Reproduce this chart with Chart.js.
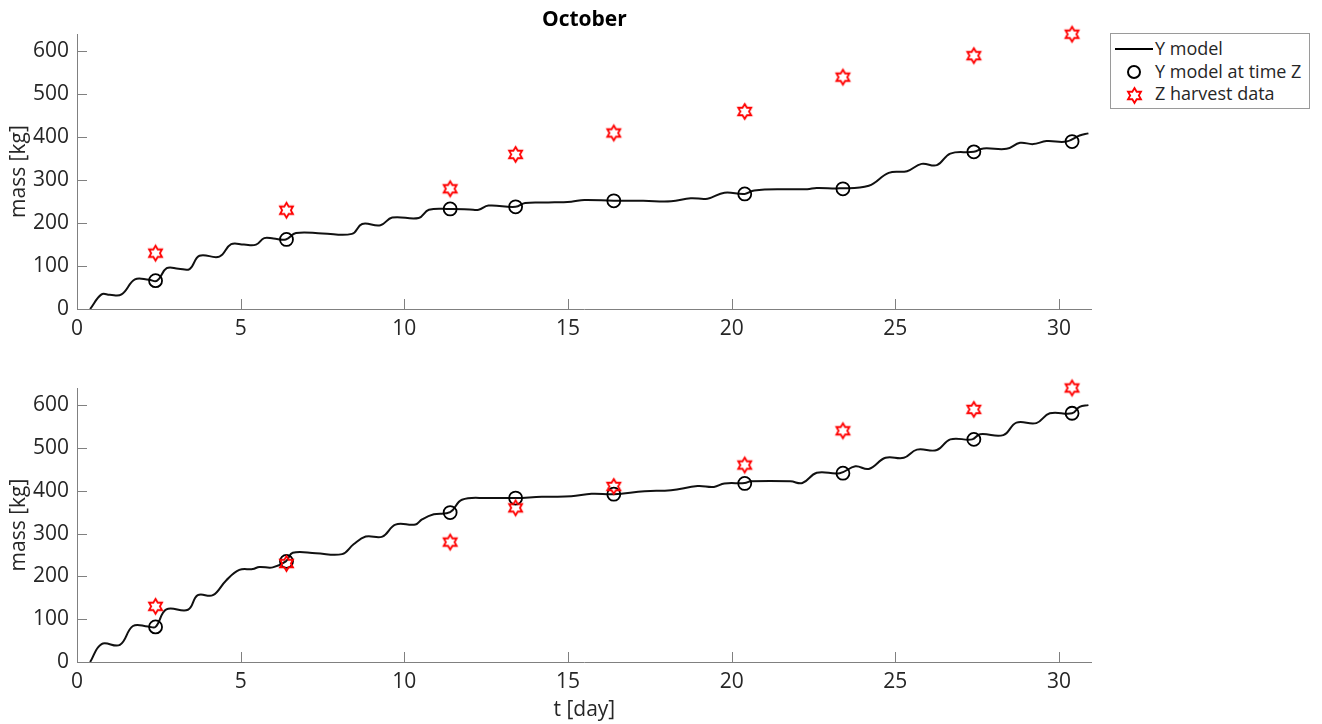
<!DOCTYPE html>
<html>
<head>
<meta charset="utf-8">
<script src="https://cdn.jsdelivr.net/npm/chart.js@4"></script>
<style>
  body { margin: 0; background: #fff; }
  #wrap { position: relative; width: 1322px; height: 724px; font-family: "Open Sans", sans-serif; color: #262626; }
  .box { position: absolute; }
  #legend { position: absolute; left: 1110px; top: 33px; width: 198px; height: 74px; border: 1px solid #9a9a9a; background: #fff; }
  .row { position: absolute; left: 0; height: 24px; width: 198px; font-size: 18px; line-height: 24px; }
  .row span.t { position: absolute; left: 44px; top: -1px; white-space: nowrap; }
  .sample { position: absolute; left: 4px; width: 38px; top: 11px; border-top: 2px solid #000; }
  .circ { position: absolute; left: 16px; top: 5px; width: 10px; height: 10px; border: 2px solid #000; border-radius: 50%; }
  .star { position: absolute; left: 13px; top: 3px; }
</style>
</head>
<body>
<div id="wrap">
  <div class="box" style="left:0;top:0;"><canvas id="topChart" width="1100" height="340"></canvas></div>
  <div class="box" style="left:0;top:345px;"><canvas id="bottomChart" width="1100" height="379"></canvas></div>
  <div id="legend">
    <div class="row" style="top:3px;"><div class="sample"></div><span class="t">Y model</span></div>
    <div class="row" style="top:26px;"><div class="circ"></div><span class="t">Y model at time Z</span></div>
    <div class="row" style="top:48px;"><span class="star" id="legStar"></span><span class="t">Z harvest data</span></div>
  </div>
</div>
<script>
// harvest times (day) and values
const harvestDays = [2.4, 6.4, 11.4, 13.4, 16.4, 20.4, 23.4, 27.4, 30.4];
const harvestMass = [130, 230, 280, 360, 410, 460, 540, 590, 640];
const modelAtHarvestTop = [66, 162, 233, 238, 252, 268, 280, 366, 390];
const modelAtHarvestBottom = [82, 235, 349, 383, 392, 417, 441, 520, 581];

// model curve, top panel
const dayTop = [0.4, 0.75, 1.0, 1.36, 1.77, 2.2, 2.45, 2.74, 3.1, 3.44, 3.74, 4.35, 4.71, 5.1, 5.47, 5.72, 6.0, 6.38,
  6.69, 7.5, 8.4, 8.71, 9.27, 9.63, 10.44, 10.75, 11.4, 12.0, 12.27, 12.57, 13.4, 13.69, 14.4, 15.1, 15.5, 16.4,
  17.3, 18.15, 18.75, 19.26, 19.78, 20.4, 20.69, 21.7, 22.31, 22.6, 23.3, 24.19, 24.8, 25.36, 25.8, 26.27, 26.68,
  27.4, 27.69, 28.4, 28.81, 29.21, 29.62, 30.23, 30.63, 30.9];
const massTop = [0, 34, 33, 34, 69, 68, 66, 95, 94, 93, 124, 122, 151, 150, 150, 165, 164, 162,
  177, 176, 175, 198, 195, 213, 212, 231, 233, 232, 231, 241, 238, 247, 248, 250, 254, 252,
  252, 251, 258, 257, 271, 268, 276, 279, 279, 282, 281, 287, 317, 321, 338, 335, 362,
  366, 374, 373, 387, 384, 391, 390, 404, 409];

// model curve, bottom panel
const dayBottom = [0.4, 0.75, 1.31, 1.71, 2.17, 2.4, 2.73, 3.39, 3.69, 4.15, 4.55, 4.96, 5.37, 5.57, 5.98, 6.38, 6.59,
  7.3, 8.1, 8.45, 8.82, 9.33, 9.73, 10.34, 10.54, 10.9, 11.4, 11.76, 12.57, 13.4, 14.2, 15.1, 15.72, 16.4, 17.34,
  18.15, 18.96, 19.46, 19.78, 20.4, 20.59, 21.8, 22.16, 22.6, 23.3, 23.78, 24.19, 24.7, 25.26, 25.66, 26.27, 26.68,
  27.35, 27.59, 28.3, 28.7, 29.31, 29.72, 30.4, 30.63, 30.9];
const massBottom = [0, 42, 40, 84, 83, 82, 123, 122, 156, 156, 190, 215, 217, 222, 221, 235, 255,
  254, 252, 275, 293, 293, 321, 321, 333, 345, 350, 379, 383, 383, 386, 387, 393, 392, 399,
  401, 411, 409, 417, 418, 422, 422, 418, 442, 441, 457, 451, 477, 477, 496, 495, 520,
  520, 532, 530, 559, 558, 581, 581, 596, 600];

const xTicks = [0, 5, 10, 15, 20, 25, 30];
const yTicks = [0, 100, 200, 300, 400, 500, 600];

const textColor = '#262626';
const axisColor = '#808080';
const font = { family: 'Open Sans', size: 21 };

const hexagram = (r, color, lw) => {
  const c = document.createElement('canvas');
  const s = Math.ceil(2 * r + 2 * lw + 2);
  c.width = c.height = s;
  const g = c.getContext('2d');
  g.strokeStyle = color;
  g.lineWidth = lw;
  g.beginPath();
  for (let i = 0; i < 12; i++) {
    const a = -Math.PI / 2 + i * Math.PI / 6;
    const rad = i % 2 === 0 ? r : r / Math.sqrt(3);
    const px = s / 2 + rad * Math.cos(a), py = s / 2 + rad * Math.sin(a);
    i === 0 ? g.moveTo(px, py) : g.lineTo(px, py);
  }
  g.closePath();
  g.stroke();
  return c;
};
const starImg = hexagram(7.5, '#ff0000', 1.8);
document.getElementById('legStar').appendChild(hexagram(7.5, '#ff0000', 1.8));

const toPoints = (xs, ys) => xs.map((x, i) => ({ x, y: ys[i] }));

// ticks pointing into the plot, like the original
const innerTicks = {
  id: 'innerTicks',
  afterDraw(chart) {
    const { ctx, chartArea: a, scales: { x, y } } = chart;
    ctx.save();
    ctx.strokeStyle = axisColor;
    ctx.lineWidth = 1;
    ctx.beginPath();
    xTicks.forEach(v => {
      const p = Math.round(x.getPixelForValue(v)) + 0.5;
      ctx.moveTo(p, a.bottom);
      ctx.lineTo(p, a.bottom - 10);
    });
    yTicks.forEach(v => {
      const p = Math.round(y.getPixelForValue(v)) + 0.5;
      ctx.moveTo(a.left, p);
      ctx.lineTo(a.left + 10, p);
    });
    ctx.stroke();
    ctx.restore();
  }
};

const makeChart = (id, days, mass, modelAtHarvest, opts) => {
  return new Chart(document.getElementById(id), {
    type: 'line',
    data: {
      datasets: [
        {
          label: 'Y model',
          data: toPoints(days, mass),
          borderColor: '#111',
          borderWidth: 2,
          pointRadius: 0,
          tension: 0.4,
          order: 3
        },
        {
          label: 'Y model at time Z',
          data: toPoints(harvestDays, modelAtHarvest),
          showLine: false,
          pointStyle: 'circle',
          pointRadius: 6.5,
          borderColor: '#000',
          backgroundColor: 'rgba(0,0,0,0)',
          pointBorderWidth: 1.8,
          order: 2
        },
        {
          label: 'Z harvest data',
          data: toPoints(harvestDays, harvestMass),
          showLine: false,
          pointStyle: starImg,
          clip: false,
          order: 1
        }
      ]
    },
    options: {
      responsive: false,
      animation: false,
      layout: { padding: { top: opts.padTop, right: 7, left: 0, bottom: 0 } },
      plugins: {
        legend: { display: false },
        tooltip: { enabled: false },
        title: opts.title ? {
          display: true,
          fullSize: false,
          text: opts.title,
          color: '#000',
          font: { family: 'Open Sans', size: 21, weight: 'bold' },
          padding: { top: 7, bottom: 2 }
        } : { display: false }
      },
      scales: {
        x: {
          type: 'linear',
          min: 0,
          max: 31,
          afterFit: s => { s.height = opts.xHeight; },
          afterBuildTicks: s => { s.ticks = xTicks.map(v => ({ value: v })); },
          ticks: { color: textColor, font, padding: 7, maxRotation: 0 },
          grid: { drawOnChartArea: false, drawTicks: false },
          border: { color: axisColor, width: 1 },
          title: opts.xTitle ? {
            display: true, text: opts.xTitle, color: textColor, font, padding: { top: 0, bottom: 1 }
          } : { display: false }
        },
        y: {
          min: 0,
          max: 640,
          afterFit: s => { s.width = 77; },
          afterBuildTicks: s => { s.ticks = yTicks.map(v => ({ value: v })); },
          ticks: { color: textColor, font, padding: 8 },
          grid: { drawOnChartArea: false, drawTicks: false },
          border: { color: axisColor, width: 1 },
          title: { display: true, text: 'mass [kg]', color: textColor, font, padding: { top: 6, bottom: 0 } }
        }
      }
    },
    plugins: [innerTicks]
  });
};

makeChart('topChart', dayTop, massTop, modelAtHarvestTop, { padTop: 0, xHeight: 31, title: 'October' });
makeChart('bottomChart', dayBottom, massBottom, modelAtHarvestBottom, { padTop: 43, xHeight: 62, xTitle: 't [day]' });
</script>
</body>
</html>
